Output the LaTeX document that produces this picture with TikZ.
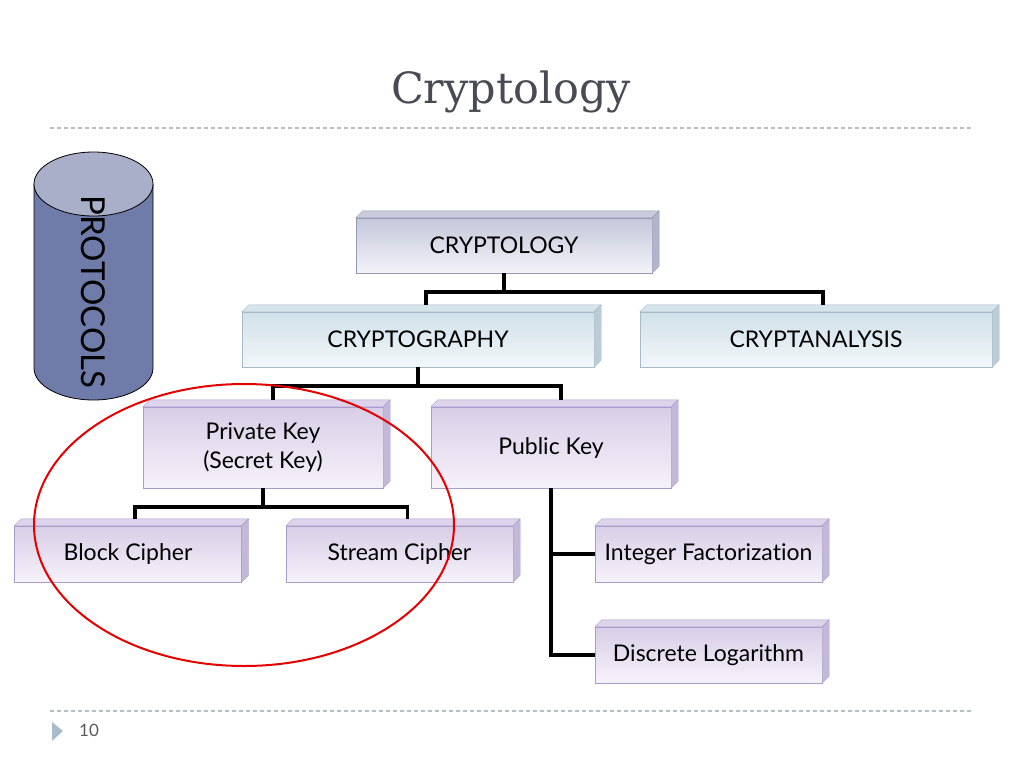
\documentclass[tikz,border=0pt]{standalone}
\usepackage{fontspec}
\setmainfont{Lato}[Ligatures=NoCommon]
\newfontfamily\titlefont{DejaVu Serif}
\usetikzlibrary{positioning, calc, backgrounds}

\definecolor{gbtop}{HTML}{C4C7DA}
\definecolor{gbbottom}{HTML}{F3F3F8}
\definecolor{gbedge}{HTML}{9499B6}
\definecolor{gbface}{HTML}{C9CBDD}
\definecolor{gbside}{HTML}{B1B4CB}
\definecolor{pbtop}{HTML}{D1E1E9}
\definecolor{pbbottom}{HTML}{F2F6F9}
\definecolor{pbedge}{HTML}{A8BAC6}
\definecolor{pbface}{HTML}{D6E4EB}
\definecolor{pbside}{HTML}{BBCCD6}
\definecolor{lvtop}{HTML}{D8CEE7}
\definecolor{lvbottom}{HTML}{F6F2FA}
\definecolor{lvedge}{HTML}{A89CCA}
\definecolor{lvface}{HTML}{DDD4EB}
\definecolor{lvside}{HTML}{C3B8D8}
\definecolor{cylbody}{HTML}{6F7BA8}
\definecolor{cyltop}{HTML}{A9AEC9}
\definecolor{rulegray}{HTML}{B8BEC6}
\definecolor{titlegray}{HTML}{4A4A55}

\begin{document}
\begin{tikzpicture} [
    x=1pt, y=-1pt,
    box/.style={rectangle, draw=#1edge, top color=#1top, bottom color=#1bottom, inner sep=0pt, font=\fontsize{23}{29}\selectfont, align=center},
    wide/.style={box=#1, minimum width=352pt, minimum height=55pt},
    tall/.style={box=#1, minimum width=240pt, minimum height=81pt},
    leaf/.style={box=#1, minimum width=227pt, minimum height=56pt},
    link/.style={draw=black, line width=3.5pt},
    rule/.style={draw=rulegray, line width=1.2pt, dash pattern=on 4pt off 3pt}
]
\useasboundingbox (0,0) rectangle (1024,768);

% title and rules
\node[font=\titlefont\fontsize{43}{50}\selectfont, text=titlegray] (title) at (511,92) {Cryptology};
\draw[rule] (50,128) -- (972,128);
\draw[rule] (50,711) -- (972,711);
\fill[fill={rgb,255:red,169;green,188;blue,205}] (52,722) -- (63,731) -- (52,741) -- cycle;
\node[font=\fontsize{17}{20}\selectfont, text=black!65] (pagenum) at (89,730) {10};

% cylinder
\draw[fill=cylbody, line width=0.8pt] (34,184) -- (34,368) arc[start angle=180, end angle=0, x radius=59.5, y radius=32] -- (153,184) -- cycle;
\draw[fill=cyltop, line width=0.8pt] (93.5,184) ellipse[x radius=59.5, y radius=32];
\node[rotate=-90, font=\fontsize{33}{40}\selectfont] (protocols) at (93.5,292) {PROTOCOLS};

% boxes
\node[box=gb, minimum width=296pt, minimum height=55pt] (cryptology) at (504,245.5) {CRYPTOLOGY};
\node[wide=pb] (cryptography) at (418,339.5) {CRYPTOGRAPHY};
\node[wide=pb] (cryptanalysis) at (816,339.5) {CRYPTANALYSIS};
\node[tall=lv] (private) at (263,447.5) {Private Key\\(Secret Key)};
\node[tall=lv] (public) at (551,447.5) {Public Key};
\node[leaf=lv] (block) at (128,554) {Block Cipher};
\node[leaf=lv] (stream) at (399.5,554) {Stream Cipher};
\node[leaf=lv] (factor) at (708.5,554) {Integer Factorization};
\node[leaf=lv] (dlog) at (708.5,655) {Discrete Logarithm};

% 3d edges of the boxes
\foreach \n/\c in {cryptology/gb, cryptography/pb, cryptanalysis/pb, private/lv, public/lv, block/lv, stream/lv, factor/lv, dlog/lv} {
    \filldraw[fill=\c face, draw=\c edge, line join=round] (\n.north west) -- ++(7,-7) -- ([xshift=7pt, yshift=7pt]\n.north east) -- (\n.north east) -- cycle;
    \filldraw[fill=\c side, draw=\c edge, line join=round] (\n.north east) -- ++(7,-7) -- ([xshift=7pt, yshift=7pt]\n.south east) -- (\n.south east) -- cycle;
}

% tree lines
\draw[link] (cryptology.south) -- ++(0,19) coordinate (j1);
\draw[link] ([xshift=8pt, yshift=7pt]cryptography.north) |- (j1) -| ([xshift=7pt, yshift=7pt]cryptanalysis.north);
\draw[link] (cryptography.south) -- ++(0,19) coordinate (j2);
\draw[link] ([xshift=10pt, yshift=7pt]private.north) |- (j2) -| ([xshift=10pt, yshift=7pt]public.north);
\draw[link] (private.south) -- ++(0,19) coordinate (j3);
\draw[link] ([xshift=7pt, yshift=7pt]block.north) |- (j3) -| ([xshift=8pt, yshift=7pt]stream.north);
\draw[link] (public.south) |- (dlog.west);
\draw[link] (public.south |- factor.west) -- (factor.west);

% highlight
\draw[red!90!black, line width=2pt] (244,525) ellipse[x radius=210, y radius=141];

\end{tikzpicture}
\end{document}
